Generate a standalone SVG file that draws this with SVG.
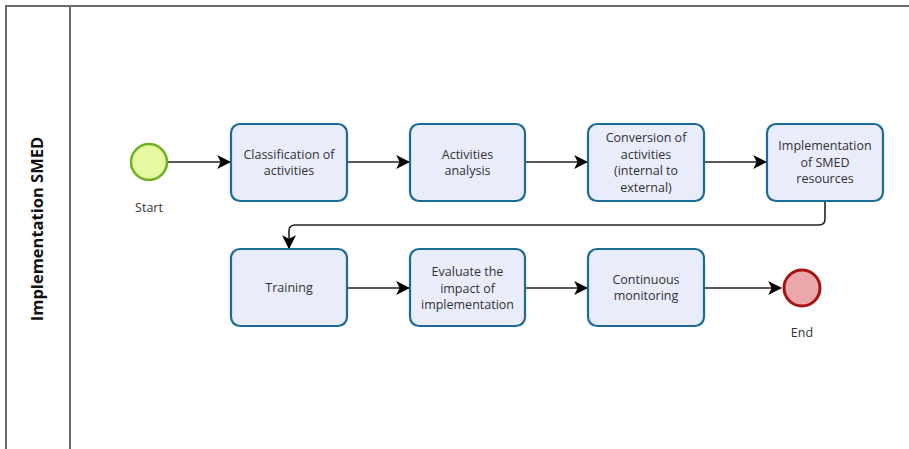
<svg xmlns="http://www.w3.org/2000/svg" width="909" height="449" viewBox="0 0 909 449">
  <defs>
    <marker id="arrow" viewBox="0 0 12 12" refX="11" refY="6" markerWidth="14" markerHeight="14" markerUnits="userSpaceOnUse" orient="auto">
      <path d="M0,0 L12,6 L0,12 L3,6 Z" fill="#000"/>
    </marker>
    <style>
      .pool { fill: none; stroke: #6b6b6b; stroke-width: 2; }
      .task { fill: #e8ecfb; stroke: #1a6c96; stroke-width: 2.2; }
      .label { font-family: "Open Sans", "Noto Sans", sans-serif; font-size: 12.5px; fill: #333; text-anchor: middle; }
      .lane-title { font-family: "Open Sans", "Noto Sans", sans-serif; font-size: 16.5px; font-weight: bold; fill: #111; text-anchor: middle; }
      .flow { fill: none; stroke: #222; stroke-width: 1.6; marker-end: url(#arrow); }
      .start { fill: #e4f9a0; stroke: #6db321; stroke-width: 2.5; }
      .end { fill: #eba7a9; stroke: #a31414; stroke-width: 3; }
    </style>
  </defs>

  <!-- pool and lane frame -->
  <g id="pool">
    <path class="pool" d="M6,449 V6 H909"/>
    <line class="pool" x1="70" y1="6" x2="70" y2="449"/>
    <text class="lane-title" transform="translate(43,229) rotate(-90)">Implementation SMED</text>
  </g>

  <!-- sequence flows -->
  <g id="connectors">
    <line class="flow" x1="168" y1="162" x2="230" y2="162"/>
    <line class="flow" x1="348" y1="162" x2="409" y2="162"/>
    <line class="flow" x1="526" y1="162" x2="587" y2="162"/>
    <line class="flow" x1="705" y1="162" x2="766" y2="162"/>
    <path class="flow" d="M825,202 V219 Q825,225 819,225 H295 Q289,225 289,231 V248"/>
    <line class="flow" x1="348" y1="288" x2="409" y2="288"/>
    <line class="flow" x1="526" y1="288" x2="587" y2="288"/>
    <line class="flow" x1="705" y1="288" x2="781" y2="288"/>
  </g>

  <g id="start">
    <circle class="start" cx="149" cy="162" r="18"/>
    <text class="label" x="149" y="212">Start</text>
  </g>

  <g id="classification">
    <rect class="task" x="231" y="124" width="116" height="77" rx="9"/>
    <text class="label" x="289" y="158.5">Classification of</text>
    <text class="label" x="289" y="175">activities</text>
  </g>

  <g id="analysis">
    <rect class="task" x="410" y="124" width="115" height="77" rx="9"/>
    <text class="label" x="467.5" y="158.5">Activities</text>
    <text class="label" x="467.5" y="175">analysis</text>
  </g>

  <g id="conversion">
    <rect class="task" x="588" y="124" width="116" height="77" rx="9"/>
    <text class="label" x="646" y="142">Conversion of</text>
    <text class="label" x="646" y="158.5">activities</text>
    <text class="label" x="646" y="175">(internal to</text>
    <text class="label" x="646" y="191.5">external)</text>
  </g>

  <g id="smed-resources">
    <rect class="task" x="767" y="124" width="116" height="77" rx="9"/>
    <text class="label" x="825" y="150">Implementation</text>
    <text class="label" x="825" y="166.5">of SMED</text>
    <text class="label" x="825" y="183">resources</text>
  </g>

  <g id="training">
    <rect class="task" x="231" y="249" width="116" height="77" rx="9"/>
    <text class="label" x="289" y="292">Training</text>
  </g>

  <g id="evaluate">
    <rect class="task" x="410" y="249" width="115" height="77" rx="9"/>
    <text class="label" x="467.5" y="276">Evaluate the</text>
    <text class="label" x="467.5" y="292.5">impact of</text>
    <text class="label" x="467.5" y="309">implementation</text>
  </g>

  <g id="monitoring">
    <rect class="task" x="588" y="249" width="116" height="77" rx="9"/>
    <text class="label" x="646" y="283.5">Continuous</text>
    <text class="label" x="646" y="300">monitoring</text>
  </g>

  <g id="end">
    <circle class="end" cx="802" cy="288" r="18"/>
    <text class="label" x="802" y="337">End</text>
  </g>
</svg>
